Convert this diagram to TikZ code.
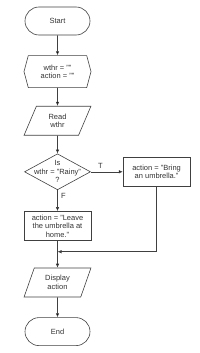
\documentclass[tikz,border=0pt]{standalone}
\usepackage{fontspec}
\setmainfont{Liberation Sans}
\usetikzlibrary{shapes.geometric, shapes.misc, shapes.symbols, positioning, arrows.meta}

\begin{document}
\begin{tikzpicture}[
    font=\fontsize{7.5}{8.5}\selectfont, text=black!80,
    box/.style={draw=black!75, line width=0.6pt, align=center, inner sep=1pt},
    terminal/.style={box, rounded rectangle, minimum width=67pt, minimum height=28pt},
    prep/.style={box, signal, signal to=west and east, signal pointer angle=150, minimum width=67pt, minimum height=32pt},
    io/.style={box, trapezium, trapezium left angle=70, trapezium right angle=110, trapezium stretches=true, minimum width=67pt, minimum height=29pt},
    decision/.style={box, diamond, minimum width=66pt, minimum height=36pt},
    process/.style={box, rectangle, minimum width=67pt, minimum height=29pt},
    flow/.style={-{Latex[length=4pt,width=3.5pt]}, draw=black!75, line width=0.6pt}
]
    \useasboundingbox (0,0) rectangle (200pt,-353pt);

    \node[terminal] (start) at (57.5pt,-21pt) {Start};
    \node[prep] (init) [below=20pt of start] {wthr = ""\\action = ""};
    \node[io] (read) [below=18pt of init] {Read\\wthr};
    \node[decision, label={[align=center]center:Is\\wthr = "Rainy"\\?}] (test) [below=18pt of read] {};
    \node[process] (bring) [right=32pt of test] {action = "Bring\\an umbrella."};
    \node[process] (leave) [below=21pt of test] {action = "Leave\\the umbrella at\\home."};
    \node[io] (show) [below=27pt of leave] {Display\\action};
    \node[terminal] (stop) [below=20pt of show] {End};
    \coordinate[below=11pt of leave.south] (join);

    \path[flow] (start) edge (init)
      (init) edge (read)
      (read) edge (test)
      (test) edge node[above, pos=0.3] {T} (bring)
      (test) edge node[right, pos=0.3] {F} (leave)
      (leave) edge (show)
      (show) edge (stop);
    \draw[flow] (bring) |- (join);

\end{tikzpicture}
\end{document}
